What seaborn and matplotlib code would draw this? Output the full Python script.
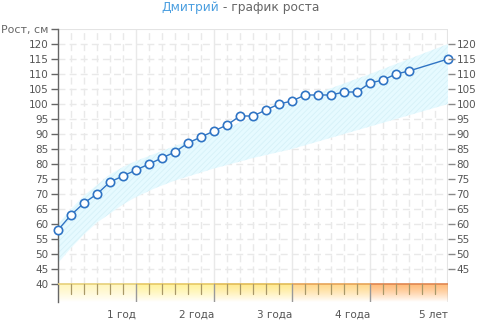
import numpy as np
import pandas as pd
import matplotlib
matplotlib.use("Agg")
import matplotlib.pyplot as plt
import seaborn as sns
from matplotlib.colors import to_rgb

# ---------------- data ----------------
months = [0, 2, 4, 6, 8, 10, 12, 14, 16, 18, 20, 22, 24, 26, 28, 30, 32, 34,
          36, 38, 40, 42, 44, 46, 48, 50, 52, 54, 60]
heights = [58, 63, 67, 70, 74, 76, 78, 80, 82, 84, 87, 89, 91, 93, 96, 96, 98,
           100, 101, 103, 103, 103, 104, 104, 107, 108, 110, 111, 115]

norm_months = [0, 2, 4, 6, 8, 10, 12, 15, 18, 24, 30, 36, 48, 60]
norm_low = [47, 52, 56.5, 60.5, 63.5, 66.5, 69, 72, 74.5, 78.5, 82, 85, 92.5, 100]
norm_high = [60, 65, 69.5, 73, 76.5, 79, 81, 83.5, 86, 90.5, 95.5, 100.5, 110, 120]

year_months = [12, 24, 36, 48, 60]
year_labels = ["1 год", "2 года", "3 года", "4 года", "5 лет"]
band_top = ["#fff6c0", "#fff3a0", "#ffea92", "#ffd98e", "#ffbd7c"]
band_line = ["#e6d07a", "#e6c866", "#e2bc58", "#e6a458", "#e08650"]

left_ticks = list(range(40, 121, 5))
right_ticks = list(range(45, 121, 5))
y_label = "Рост, см"
title_name = "Дмитрий"
title_rest = " - график роста"

df = pd.DataFrame({"month": months, "height": heights})

# ---------------- figure ----------------
sns.set_style("white")
plt.rcParams["font.family"] = ["DejaVu Sans"]
plt.rcParams["hatch.linewidth"] = 0.6
fig = plt.figure(figsize=(4.8, 3.28), dpi=100)
ax = fig.add_axes([58 / 480, 1 - 302 / 328, 390 / 480, 273 / 328])
ymin, ymax = 34, 125
ax.set_xlim(0, 60)
ax.set_ylim(ymin, ymax)
band_frac = (40 - ymin) / (ymax - ymin)

grid_c = "#e9e9e9"
for v in right_ticks:
    ax.axhline(v, color=grid_c, lw=1, ls=(0, (5, 3)), zorder=0)
for m in range(2, 60, 2):
    if m % 12 == 0:
        ax.axvline(m, ymin=band_frac, color=grid_c, lw=1, zorder=0)
    else:
        ax.axvline(m, ymin=band_frac, color=grid_c, lw=1,
                   ls=(0, (5, 3)), zorder=0)

# norm band
ax.fill_between(norm_months, norm_low, norm_high, facecolor="#e6faff",
                edgecolor="none", zorder=1)
ax.fill_between(norm_months, norm_low, norm_high, facecolor="none",
                edgecolor="#d6f1f8", hatch="//////", lw=0, zorder=1)

# bottom age band with gradient
starts = [0] + year_months[:-1]
for x0, x1, ct, cl in zip(starts, year_months, band_top, band_line):
    top = np.array(to_rgb(ct))
    n = 64
    t = np.linspace(0, 1, n)[:, None] ** 1.3
    grad = top[None, :] * (1 - t) + np.ones(3)[None, :] * t
    grad = grad[:, None, :]
    ax.imshow(grad, extent=(x0, x1, ymin, 40), origin="upper", aspect="auto",
              zorder=2, interpolation="bilinear")
    ax.plot([x0, x1], [40, 40], color=cl, lw=1.2, zorder=3, solid_capstyle="butt")
    for m in range(x0 + 2, x1, 2):
        ax.plot([m, m], [40, 40 - 3.3], color="#a89868", lw=0.9, zorder=3)
for m in year_months:
    ax.axvline(m, ymax=band_frac, color="#999999", lw=1, zorder=3)
ax.set_aspect("auto")
ax.set_xlim(0, 60)
ax.set_ylim(ymin, ymax)

# data line
sns.lineplot(data=df, x="month", y="height", ax=ax, color="#2f74c4", lw=1,
             marker="o", markersize=6, markerfacecolor="white",
             markeredgecolor="#2f74c4", markeredgewidth=1.2, zorder=5,
             clip_on=False)

# spines
for s in ["top", "right", "bottom"]:
    ax.spines[s].set_visible(False)
ax.spines["left"].set_color("#666666")
ax.spines["left"].set_linewidth(1)
ax.axhline(ymax, color="#e4e4e4", lw=1.5, zorder=0)
ax.axvline(60, ymin=band_frac, color="#e4e4e4", lw=1.5, zorder=0)

# left ticks
ax.set_yticks(left_ticks + [125])
ax.set_yticklabels([str(v) for v in left_ticks] + [y_label])
ax.tick_params(axis="y", which="both", left=True, length=5, width=1,
               color="#666666", labelsize=7.5, labelcolor="#555555", pad=2)
ax.get_yticklabels()[-1].set_fontsize(7.9)
ax.get_yticklabels()[-1].set_color("#666666")
# x ticks
ax.set_xticks(year_months)
ax.set_xticklabels(year_labels)
ax.tick_params(axis="x", bottom=False, labelsize=7.5, labelcolor="#555555", pad=2)
for lab in ax.get_xticklabels():
    lab.set_horizontalalignment("right")
ax.set_xlabel("")
ax.set_ylabel("")

# right axis
ax2 = ax.twinx()
ax2.set_ylim(ymin, ymax)
ax2.set_yticks(right_ticks)
ax2.set_yticklabels([str(v) for v in right_ticks])
ax2.tick_params(axis="y", right=True, length=5, width=1, color="#888888",
                labelsize=7.5, labelcolor="#555555", pad=1)
for s in ax2.spines.values():
    s.set_visible(False)

# title
t1 = fig.text(0.5, 1 - 8 / 328, title_name, color="#4b9fe0", fontsize=8.8,
              ha="right", va="center")
t2 = fig.text(0.5, 1 - 8 / 328, title_rest, color="#666666", fontsize=8.8,
              ha="left", va="center")
fig.canvas.draw()
r = fig.canvas.get_renderer()
w1 = t1.get_window_extent(r).width
w2 = t2.get_window_extent(r).width
shift = (w1 - w2) / 2 / 480
for tx in (t1, t2):
    tx.set_x(tx.get_position()[0] + shift)

fig.savefig("out.png", dpi=100)
